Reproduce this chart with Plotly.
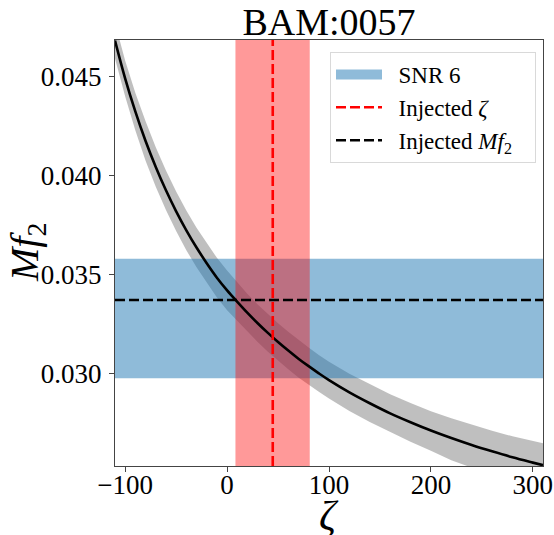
import plotly.graph_objects as go

# ---- data ----
zeta = [-110, -100, -90, -80, -70, -60, -50, -40, -30, -20, -10, 0, 10, 20, 30, 40, 50,
        60, 70, 80, 90, 100, 120, 140, 160, 180, 200, 220, 240, 260, 280, 300, 310]
mf2_fit = [0.04681, 0.04489, 0.04322, 0.04174, 0.04043, 0.03925, 0.03819, 0.03723,
           0.03636, 0.03557, 0.03484, 0.03420, 0.03362, 0.03306, 0.03254, 0.03205,
           0.03159, 0.03116, 0.03075, 0.03037, 0.03001, 0.02967, 0.02905, 0.02850,
           0.02799, 0.02754, 0.02712, 0.02674, 0.02639, 0.02607, 0.02577, 0.02550, 0.02537]
mf2_upper = [0.04771, 0.04579, 0.04417, 0.04274, 0.04143, 0.04025, 0.03919, 0.03823,
             0.03736, 0.03657, 0.03584, 0.03520, 0.03459, 0.03402, 0.03349, 0.03300,
             0.03254, 0.03211, 0.03170, 0.03131, 0.03094, 0.03060, 0.02999, 0.02945,
             0.02895, 0.02851, 0.02810, 0.02774, 0.02741, 0.02711, 0.02683, 0.02659, 0.02648]
mf2_lower = [0.04591, 0.04399, 0.04227, 0.04074, 0.03943, 0.03825, 0.03719, 0.03623,
             0.03536, 0.03457, 0.03384, 0.03320, 0.03265, 0.03210, 0.03159, 0.03110,
             0.03064, 0.03021, 0.02980, 0.02943, 0.02908, 0.02874, 0.02811, 0.02755,
             0.02703, 0.02655, 0.02610, 0.02562, 0.02525, 0.02493, 0.02463, 0.02435, 0.02420]

snr_band = [0.02976, 0.03579]      # SNR 6 interval in Mf2
zeta_band = [8.2, 81.1]            # interval in zeta
injected_zeta = 44.8
injected_mf2 = 0.03371

x_range = [-110, 310]
y_range = [0.02533, 0.04684]
x_ticks = [-100, 0, 100, 200, 300]
y_ticks = [0.030, 0.035, 0.040, 0.045]

FONT = "Liberation Serif"
BLUE = "rgba(31,119,180,0.5)"
NB = "\u00a0\u00a0"

fig = go.Figure()

# gray uncertainty band
fig.add_trace(go.Scatter(x=zeta, y=mf2_lower, mode="lines", line=dict(width=0),
                         showlegend=False, hoverinfo="skip"))
fig.add_trace(go.Scatter(x=zeta, y=mf2_upper, mode="lines", line=dict(width=0),
                         fill="tonexty", fillcolor="rgba(128,128,128,0.5)",
                         showlegend=False, hoverinfo="skip"))

# SNR 6 horizontal band
fig.add_trace(go.Scatter(
    x=[x_range[0], x_range[1], x_range[1], x_range[0], x_range[0]],
    y=[snr_band[0], snr_band[0], snr_band[1], snr_band[1], snr_band[0]],
    mode="lines", line=dict(width=0), fill="toself",
    fillcolor=BLUE, showlegend=False, hoverinfo="skip"))

# zeta vertical band
fig.add_trace(go.Scatter(
    x=[zeta_band[0], zeta_band[1], zeta_band[1], zeta_band[0], zeta_band[0]],
    y=[y_range[0], y_range[0], y_range[1], y_range[1], y_range[0]],
    mode="lines", line=dict(width=0), fill="toself",
    fillcolor="rgba(255,0,0,0.4)", showlegend=False, hoverinfo="skip"))

# fit curve
fig.add_trace(go.Scatter(x=zeta, y=mf2_fit, mode="lines",
                         line=dict(color="black", width=2.6, shape="spline"),
                         showlegend=False))

# legend entry for the SNR band (patch-like thick line)
fig.add_trace(go.Scatter(x=[None], y=[None], mode="lines",
                         line=dict(color=BLUE, width=12), name=NB + "SNR 6"))

# injected lines
fig.add_trace(go.Scatter(x=[injected_zeta, injected_zeta], y=y_range, mode="lines",
                         line=dict(color="red", width=2.6, dash="10px,4px"),
                         name=NB + "Injected <i>ζ</i>"))
fig.add_trace(go.Scatter(x=x_range, y=[injected_mf2, injected_mf2], mode="lines",
                         line=dict(color="black", width=2.6, dash="10px,4px"),
                         name=NB + "Injected <i>Mf</i><sub>2</sub>" + "\u00a0\u00a0\u00a0"))

axis_common = dict(showgrid=False, zeroline=False, showline=True, mirror=True,
                   linecolor="#444", linewidth=1.2, ticks="outside", ticklen=5,
                   tickwidth=1.2, tickcolor="#444", automargin=False,
                   tickfont=dict(family=FONT, size=27, color="black"))

fig.update_xaxes(range=x_range, tickvals=x_ticks, ticklabelstandoff=-11, **axis_common)
fig.update_yaxes(range=y_range, tickvals=y_ticks, tickformat=".3f",
                 ticklabelstandoff=2, **axis_common)

PLOT_W = 554 - 115 - 11
PLOT_H = 535 - 40 - 69

fig.update_layout(
    width=554, height=535,
    margin=dict(l=115, r=11, t=40, b=69, autoexpand=False),
    paper_bgcolor="white", plot_bgcolor="white",
    title=dict(text="BAM:0057", x=0.5, xref="paper", xanchor="center",
               y=0.984, yref="container", yanchor="top", automargin=False,
               font=dict(family=FONT, size=38, color="black")),
    legend=dict(x=(330 - 115) / PLOT_W, xanchor="left", y=0.972, yanchor="top",
                traceorder="normal",
                bgcolor="rgba(255,255,255,0.8)", bordercolor="#d9d9d9", borderwidth=1,
                font=dict(family=FONT, size=23, color="black"), itemwidth=46,
                tracegroupgap=0),
    annotations=[
        dict(text="<i>Mf</i><sub>2</sub>", xref="paper", yref="paper",
             x=(27 - 115) / PLOT_W, y=(465 - 252) / PLOT_H, xanchor="center",
             yanchor="middle", textangle=-90, showarrow=False,
             font=dict(family=FONT, size=40, color="black")),
        dict(text="<i>ζ</i>", xref="paper", yref="paper",
             x=0.5, y=-(516 - 466) / PLOT_H, xanchor="center", yanchor="middle",
             showarrow=False, font=dict(family=FONT, size=42, color="black")),
    ],
    font=dict(family=FONT),
)

fig.write_html("out.html", config={"displayModeBar": False},
               post_script="document.body.style.margin='0';document.body.style.padding='0';")
